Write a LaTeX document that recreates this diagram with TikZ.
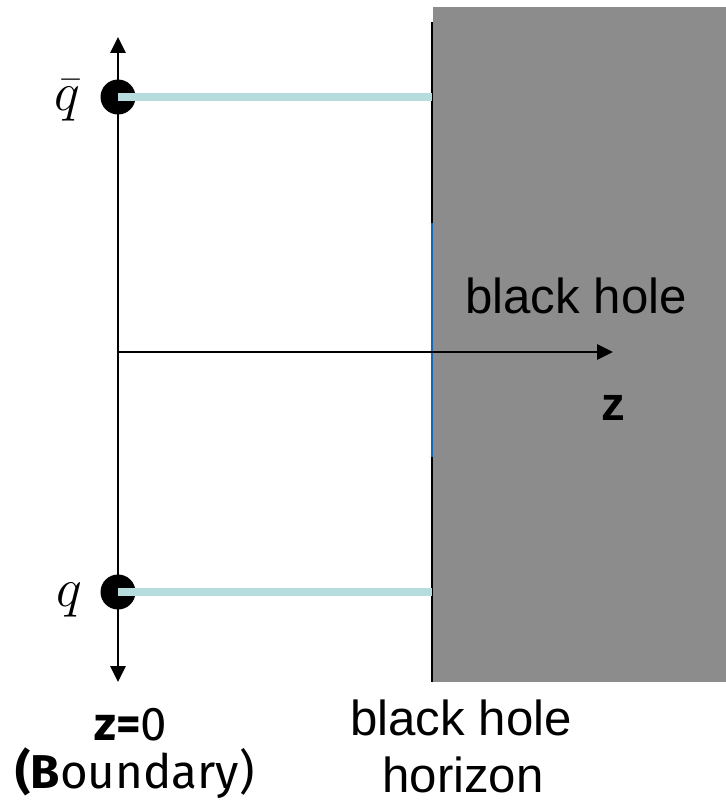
\documentclass[tikz,border=0pt]{standalone}
\usepackage{fontspec}
\setmainfont{Liberation Sans}
\newfontfamily\bndfont{Fira Sans}
\usetikzlibrary{arrows.meta}
\definecolor{HoleGray}{HTML}{8C8C8C}
\definecolor{StringCyan}{HTML}{B6DCDE}
\definecolor{HorizonBlue}{HTML}{1565B5}

\tikzset{
  axisline/.style={line width=1.6pt,-{Triangle[length=9pt,width=8.5pt]}},
  quark/.style={circle,fill=black,inner sep=0pt,minimum size=0.7cm},
  qstring/.style={StringCyan,line width=4pt},
  bigtext/.style={font=\fontsize{28}{34}\selectfont,anchor=base,inner sep=0pt},
  quarktext/.style={font=\fontsize{24.88}{30}\selectfont,anchor=base,inner sep=0pt,
    scale=1.25,transform shape},
  bndtext/.style={font=\fontsize{27}{32}\selectfont\bndfont,anchor=base,inner sep=0pt},
}

\begin{document}
\begin{tikzpicture}[x=0.02cm,y=-0.02cm]
\useasboundingbox (0,0) rectangle (726,802);
% black hole region
\fill[HoleGray] (433,7) rectangle (726,682);
\coordinate (htop) at (432,22);
\coordinate (hbot) at (432,682);
\coordinate (hblue1) at (432,223);
\coordinate (hblue2) at (432,457);
\draw[line width=1.2pt] (htop) -- (hbot);
\draw[HorizonBlue,line width=1.2pt] (hblue1) -- (hblue2);
% axes
\coordinate (origin) at (118,352);
\coordinate (ztip) at (613,352);
\coordinate (ytop) at (118,37);
\coordinate (ybot) at (118,682);
\draw[axisline,{Triangle[length=9pt,width=8.5pt]}-{Triangle[length=9pt,width=8.5pt]}] (ybot) -- (ytop);
\draw[axisline] (origin) -- (ztip);
% quarks and strings
\node[quark] (qbar) at (118,97) {};
\node[quark] (q) at (118,592) {};
\draw[qstring] (qbar.center) -- (qbar.center -| htop);
\draw[qstring] (q.center) -- (q.center -| htop);
\node[quarktext] (qbarlabel) at (67,110) {$\bar{q}$};
\node[quarktext] (qlabel) at (69,606) {$q$};
% labels
\node[bigtext] (holetext) at (576,313) {black hole};
\node[bigtext,font=\fontsize{27}{32}\selectfont\bfseries] (zlabel) at (613,420) {z};
\node[bigtext] (horizon1) at (461,735) {black hole};
\node[bigtext] (horizon2) at (463,792) {horizon};
\node[bndtext] (bnd1) at (131,740) {\textbf{z=}0};
\node[bndtext] (bnd2) at (135,788) {\textbf{(B}oundary)};
\end{tikzpicture}
\end{document}
